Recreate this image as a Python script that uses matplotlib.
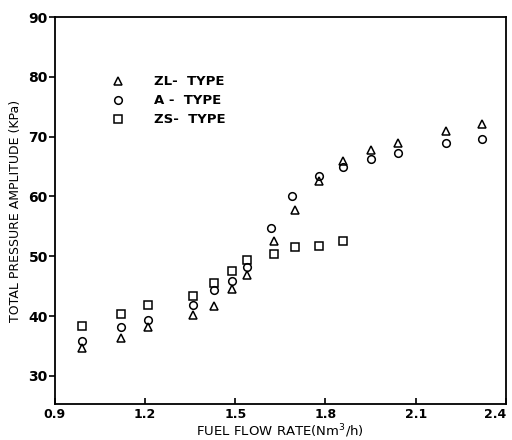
import matplotlib
matplotlib.use('Agg')
import matplotlib.pyplot as plt

# fuel flow rate (Nm3/h)
x_zl = [0.99, 1.12, 1.21, 1.36, 1.43, 1.49, 1.54, 1.63, 1.70, 1.78, 1.86, 1.95, 2.04, 2.20, 2.32]
x_a = [0.99, 1.12, 1.21, 1.36, 1.43, 1.49, 1.54, 1.62, 1.69, 1.78, 1.86, 1.95, 2.04, 2.20, 2.32]
x_zs = [0.99, 1.12, 1.21, 1.36, 1.43, 1.49, 1.54, 1.63, 1.70, 1.78, 1.86]

# total pressure amplitude (KPa)
zl = [34.6, 36.4, 38.2, 40.1, 41.6, 44.5, 46.8, 52.5, 57.7, 62.6, 66.0, 67.7, 68.9, 70.9, 72.2]
a = [35.8, 38.1, 39.3, 41.8, 44.4, 45.8, 48.2, 54.7, 60.1, 63.4, 65.0, 66.2, 67.2, 68.9, 69.7]
zs = [38.3, 40.3, 41.9, 43.4, 45.5, 47.6, 49.4, 50.3, 51.6, 51.8, 52.6]

fig = plt.figure(figsize=(5.12, 4.40), dpi=100)
ax = fig.add_axes([0.107, 0.082, 0.881, 0.879])

mk = dict(linestyle='none', markerfacecolor='none', markeredgecolor='black',
          markersize=5.5, markeredgewidth=1.1)
ax.plot(x_zl, zl, marker='^', label='ZL-  TYPE', **mk)
ax.plot(x_a, a, marker='o', label='A -  TYPE', **mk)
ax.plot(x_zs, zs, marker='s', label='ZS-  TYPE', **mk)

ax.set_xlim(0.9, 2.4)
ax.set_ylim(25.3, 90)
ax.set_xticks([0.9, 1.2, 1.5, 1.8, 2.1, 2.4])
ax.set_xticklabels(['0.9', '1.2', '1.5', '1.8', '2.1', '2.4'])
ax.set_yticks([30, 40, 50, 60, 70, 80, 90])
ax.tick_params(axis='x', direction='in', length=4, width=1.2, labelsize=9, pad=3)
ax.tick_params(axis='y', direction='out', length=4, width=1.2, labelsize=10, pad=1)
for lab in ax.get_xticklabels() + ax.get_yticklabels():
    lab.set_fontweight('bold')
ax.get_xticklabels()[-1].set_horizontalalignment('right')
for s in ax.spines.values():
    s.set_linewidth(1.3)

ax.set_xlabel('FUEL FLOW RATE(Nm$^3$/h)', fontsize=9.5, labelpad=1)
ax.set_ylabel('TOTAL PRESSURE AMPLITUDE (KPa)', fontsize=9, labelpad=5)

leg = ax.legend(loc='upper left', bbox_to_anchor=(0.10, 0.88), frameon=False,
                handletextpad=2.2, labelspacing=0.45, fontsize=9.5, handlelength=1.0)
for t in leg.get_texts():
    t.set_fontweight('bold')

fig.savefig('out.png', dpi=100)
